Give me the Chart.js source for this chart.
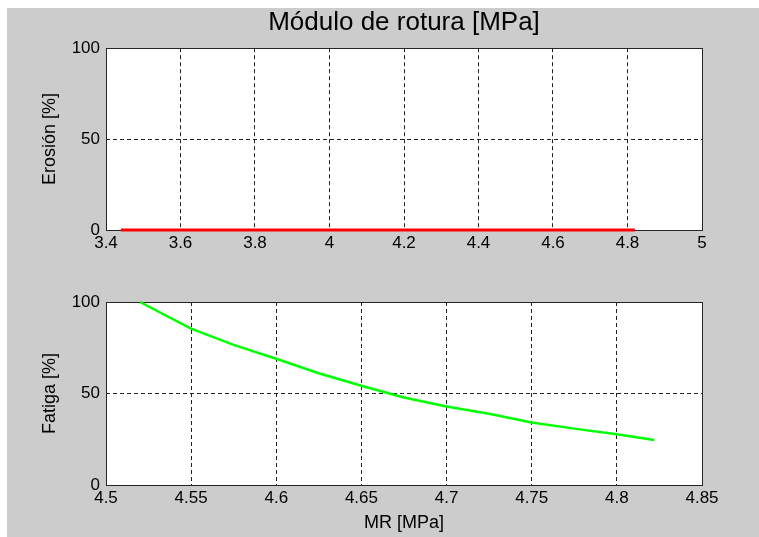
<!DOCTYPE html>
<html>
<head>
<meta charset="utf-8">
<script src="https://cdn.jsdelivr.net/npm/chart.js@4"></script>
<style>
  body { margin: 0; background: #fff; width: 759px; height: 537px; overflow: hidden; position: relative; }
  #bg { position: absolute; left: 7px; top: 8px; width: 752px; height: 529px; background: #cccccc; }
  .box { position: absolute; left: 0; width: 759px; }
  #topBox { top: 0; height: 270px; }
  #bottomBox { top: 270px; height: 267px; }
</style>
</head>
<body>
<div id="bg"></div>
<div class="box" id="topBox"><canvas id="erosionChart" width="759" height="270"></canvas></div>
<div class="box" id="bottomBox"><canvas id="fatigueChart" width="759" height="267"></canvas></div>
<script>
// Erosión (upper plot)
var erosionX = [3.44, 4.82];
var erosionY = [0, 0];
var erosionXTicks = [3.4, 3.6, 3.8, 4, 4.2, 4.4, 4.6, 4.8, 5];

// Fatiga (lower plot)
var fatigueX = [4.52, 4.55, 4.575, 4.6, 4.625, 4.65, 4.675, 4.7, 4.725, 4.75, 4.775, 4.8, 4.822];
var fatigueY = [100, 85.4, 76.6, 69.0, 61.1, 54.2, 47.8, 42.9, 38.9, 34.1, 30.8, 27.7, 24.6];
var fatigueXTicks = [4.5, 4.55, 4.6, 4.65, 4.7, 4.75, 4.8, 4.85];

var yTicks = [0, 50, 100];

var FONT = "'Liberation Sans', Arial, sans-serif";
Chart.defaults.font.family = FONT;
Chart.defaults.color = "#000";

// white plot background + solid axes box around the plot area
var boxPlugin = {
  id: "axesBox",
  beforeDraw: function (chart) {
    var a = chart.chartArea;
    var ctx = chart.ctx;
    ctx.save();
    ctx.fillStyle = "#fff";
    ctx.fillRect(a.left, a.top, a.right - a.left, a.bottom - a.top);
    ctx.restore();
  },
  beforeDatasetsDraw: function (chart) {
    var a = chart.chartArea;
    var ctx = chart.ctx;
    ctx.save();
    ctx.setLineDash([]);
    ctx.lineWidth = 1;
    ctx.strokeStyle = "#262626";
    ctx.strokeRect(Math.round(a.left) + 0.5, Math.round(a.top) + 0.5,
      Math.round(a.right - a.left), Math.round(a.bottom - a.top));
    ctx.restore();
  },
};

function fmt(v) {
  return String(+v.toFixed(2));
}

function makeChart(id, xs, ys, color, width, xTicks, xMin, xMax, opts) {
  var pts = xs.map(function (x, i) {
    return { x: x, y: ys[i] };
  });
  var ctx = document.getElementById(id).getContext("2d");
  return new Chart(ctx, {
    type: "line",
    data: {
      datasets: [
        {
          data: pts,
          borderColor: color,
          borderWidth: width,
          pointRadius: 0,
          tension: 0,
          fill: false,
          clip: 6,
        },
      ],
    },
    options: {
      responsive: false,
      animation: false,
      layout: { padding: { left: 0, right: 57, top: opts.padTop, bottom: 0 } },
      plugins: {
        legend: { display: false },
        tooltip: { enabled: false },
        title: {
          display: !!opts.title,
          text: opts.title || "",
          fullSize: false,
          color: "#000",
          font: { size: 26, weight: "normal" },
          padding: { top: 7, bottom: 10 },
        },
      },
      scales: {
        x: {
          type: "linear",
          min: xMin,
          max: xMax,
          afterBuildTicks: function (scale) {
            scale.ticks = xTicks.map(function (v) {
              return { value: v };
            });
          },
          afterFit: function (scale) {
            scale.height = opts.xAxisHeight;
          },
          ticks: {
            padding: 3,
            font: { size: 17 },
            maxRotation: 0,
            autoSkip: false,
            callback: function (v) {
              return fmt(v);
            },
          },
          grid: { color: "#222", drawTicks: false, lineWidth: 1 },
          border: { display: false, dash: [4, 3] },
          title: {
            display: !!opts.xTitle,
            text: opts.xTitle || "",
            font: { size: 18 },
            padding: { top: 0, bottom: 3 },
          },
        },
        y: {
          type: "linear",
          min: 0,
          max: 100,
          afterBuildTicks: function (scale) {
            scale.ticks = yTicks.map(function (v) {
              return { value: v };
            });
          },
          afterFit: function (scale) {
            scale.width = 106;
          },
          ticks: {
            padding: 6,
            font: { size: 17 },
            callback: function (v) {
              return fmt(v);
            },
          },
          grid: { color: "#222", drawTicks: false, lineWidth: 1 },
          border: { display: false, dash: [4, 3] },
          title: {
            display: true,
            text: opts.yTitle,
            font: { size: 18 },
            padding: { top: 39, bottom: 0 },
          },
        },
      },
    },
    plugins: [boxPlugin],
  });
}

makeChart("erosionChart", erosionX, erosionY, "#ff0000", 3, erosionXTicks, 3.4, 5, {
  padTop: 0,
  title: "Módulo de rotura [MPa]",
  xAxisHeight: 40,
  yTitle: "Erosión [%]",
});

makeChart("fatigueChart", fatigueX, fatigueY, "#00ff00", 2.5, fatigueXTicks, 4.5, 4.85, {
  padTop: 32,
  xAxisHeight: 52,
  xTitle: "MR [MPa]",
  yTitle: "Fatiga [%]",
});
</script>
</body>
</html>
